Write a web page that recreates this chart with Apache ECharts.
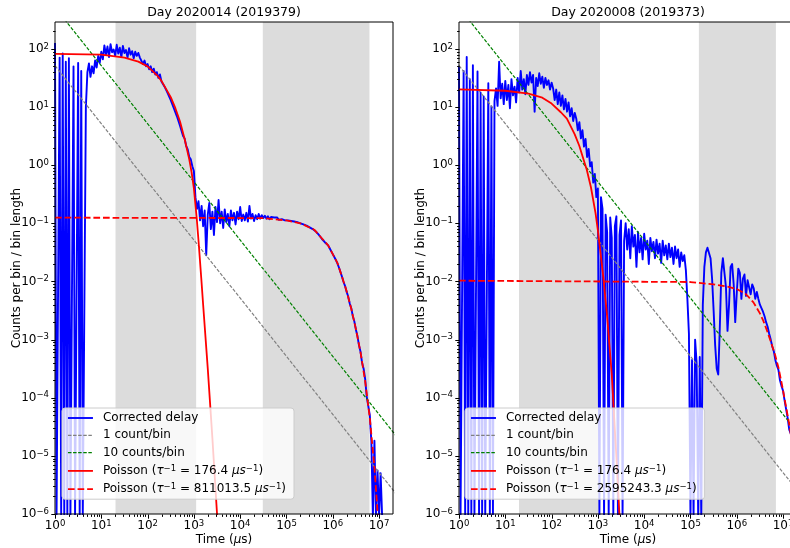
<!DOCTYPE html>
<html>
<head>
<meta charset="utf-8">
<title>Corrected delay</title>
<script src="https://cdn.jsdelivr.net/npm/echarts@6/dist/echarts.min.js"></script>
<style>
  html, body { margin: 0; padding: 0; background: #fff; }
  #chart { width: 790px; height: 548px; }
</style>
</head>
<body>
<div id="chart"></div>
<script>
var xMin = 1, xMax = 2.0e7, yMin = 1e-6, yMax = 290;
var binsPerDecade = 30;   // bin i sits at 10^(i/30) us
var EMPTY = -9;           // marker for an empty bin (log of zero)

// log10(counts per bin / bin length) per bin, -9 = empty bin
var delayA = [
  2.10, -9, -9, 1.85, -9, 1.92, -9, 1.78, -9, 1.84, -9, -9, 1.70, -9, -9, 1.76, -9, 1.62, -9, -9, 1.00,
  1.60, 1.75, 1.52, 1.70, 1.58, 1.80, 1.68, 1.88, 1.76, 1.95, 1.82, 2.06, 1.90, 2.04, 1.86,
  2.08, 1.94, 1.99, 1.88, 2.07, 1.92, 2.02, 1.86, 2.05, 1.93, 1.98, 1.85, 2.01, 1.90, 1.96,
  1.84, 1.95, 1.88, 1.93, 1.85,
  1.83, 1.74, 1.80, 1.70, 1.74, 1.65, 1.70, 1.60, 1.66, 1.56, 1.60, 1.50, 1.56, 1.44, 1.46,
  1.35, 1.36, 1.24, 1.26, 1.12, 1.12, 0.98, 0.97, 0.84, 0.82, 0.68, 0.66, 0.50, 0.46, 0.33,
  0.27, 0.14, 0.10, -0.02, -0.10,
  -0.55, -0.75, -0.62, -0.95, -0.70, -1.05, -0.78, -1.55, -0.85, -0.65, -1.10, -0.80, -1.20, -0.72, -0.98,
  -0.60, -1.00, -0.80, -1.08, -0.76, -0.98, -0.84, -1.05, -0.78, -0.95, -0.82, -1.02, -0.80, -0.93, -0.72,
  -0.96, -0.85, -0.95, -0.82, -0.97, -0.70, -0.92, -0.84, -0.96, -0.86, -0.93, -0.84, -0.92, -0.86, -0.91,
  -0.87, -0.92, -0.88, -0.93, -0.89, -0.92, -0.90, -0.93, -0.90, -0.94, -0.91, -0.93, -0.91, -0.95, -0.93,
  -0.95, -0.93, -0.96, -0.95, -0.97, -0.96, -0.98, -0.98, -1.00, -1.00, -1.02, -1.03, -1.04, -1.06, -1.07,
  -1.09, -1.10, -1.12, -1.14, -1.17, -1.20, -1.23, -1.27, -1.30, -1.33, -1.36, -1.38, -1.43, -1.48, -1.53,
  -1.58, -1.63, -1.69, -1.76, -1.84,
  -1.92, -2.01, -2.08, -2.18, -2.26, -2.38, -2.46, -2.60, -2.69, -2.83, -2.94, -3.10, -3.21, -3.40,
  -3.50, -3.68, -3.98, -3.96, -4.30, -4.75, -9, -4.74, -9, -5.25, -9, -5.30, -9
];
var delayB = [
  1.71, -9, -9, 1.62, -9, 1.86, -9, 1.48, -9, 1.72, -9, -9, 1.61, -9, 1.25, -9, 1.18, -9, -9, 1.41, -9, 1.01, -9,
  1.10, 1.32, 1.02, 1.78, 1.15, 1.40, 1.05, 1.45, 1.12, 1.38, 0.98, 1.48, 1.20, 1.35, 1.08, 1.50,
  1.25, 1.62, 1.30, 1.48, 1.22, 1.55, 1.38,
  1.60, 1.42, 1.55, 0.92, 1.50, 1.36, 1.58, 1.40, 1.52, 1.33, 1.50, 1.38, 1.46, 1.30, 1.42,
  1.32, 1.12, 1.30, 1.05, 1.25, 1.02, 1.20, 0.96, 1.14, 0.92, 1.08, 0.84, 0.98, 0.76, 0.90,
  0.80, 0.60, 0.74, 0.46, 0.60, 0.32, 0.45, 0.14, 0.28, -0.02, 0.05, -0.30, -0.15, -0.55, -0.40,
  -9, -0.55, -0.75, -9, -0.85, -1.15, -9, -0.90, -1.25, -9, -1.05, -0.88, -9, -1.20, -0.95, -9, -1.30,
  -1.00, -1.45, -1.10, -1.60, -1.05, -1.40, -1.20, -1.75, -1.15, -1.50, -1.25, -1.62, -1.18, -1.45, -1.30,
  -1.70, -1.25, -1.48, -1.32, -1.60, -1.28, -1.52, -1.35, -1.68, -1.30, -1.55, -1.38, -1.62, -1.35, -1.58,
  -1.42, -1.70, -1.40, -1.60, -1.45, -1.75, -1.50, -1.65, -1.55, -1.80,
  -2.30, -2.90, -9, -3.35, -9, -3.00, -3.40, -9, -3.30, -9, -2.40, -1.75, -1.50, -1.42, -1.43,
  -1.60, -1.95, -2.50, -3.10, -3.50, -3.60, -2.80, -1.85, -1.60, -1.62, -2.10, -2.85, -2.40, -1.75, -1.70,
  -2.05, -2.70, -2.20, -1.78, -1.85, -2.30, -1.95, -1.88, -2.25, -1.98, -1.95, -2.22, -2.05, -2.12, -2.30,
  -2.18, -2.30, -2.40, -2.38, -2.52, -2.60, -2.70, -2.78, -2.90, -3.00, -3.12, -3.20, -3.35, -3.45, -3.52,
  -3.70, -3.80, -3.88, -4.05, -4.20, -4.35, -4.55, -4.62
];

// Poisson curves (log10 t, log10 y)
var fastA_logT = [0, 1.0, 1.5, 1.8, 2.0, 2.2, 2.3, 2.5, 2.6, 2.7, 2.8, 2.9, 2.95, 3.0, 3.06, 3.1, 3.16, 3.2, 3.3, 3.4, 3.5, 3.56];
var fastA_logY = [1.914, 1.90, 1.85, 1.78, 1.70, 1.55, 1.45, 1.17, 0.98, 0.75, 0.45, 0.10, -0.12, -0.40, -0.90, -1.30, -1.95, -2.40, -3.50, -4.70, -6.00, -6.80];
var slowA_logT = [0, 4.5, 5.0, 5.3, 5.6, 5.9, 6.1, 6.2, 6.3, 6.4, 6.5, 6.6, 6.7, 6.8, 6.9, 6.97, 7.05];
var slowA_logY = [-0.903, -0.91, -0.95, -1.0, -1.11, -1.38, -1.68, -1.92, -2.17, -2.47, -2.82, -3.22, -3.72, -4.35, -5.2, -6.0, -7.0];
var fastB_logT = [0, 1.0, 1.5, 1.8, 2.0, 2.2, 2.33, 2.5, 2.6, 2.7, 2.76, 2.85, 2.95, 3.0, 3.05, 3.117, 3.2, 3.3, 3.44, 3.5];
var fastB_logY = [1.305, 1.28, 1.23, 1.16, 1.06, 0.91, 0.80, 0.53, 0.33, 0.07, -0.08, -0.38, -0.83, -1.12, -1.46, -1.92, -2.6, -3.6, -5.6, -6.6];
var slowB_logT = [0, 5.0, 5.5, 5.8, 6.0, 6.2, 6.36, 6.5, 6.57, 6.65, 6.75, 6.83, 6.9, 6.97, 7.04, 7.13, 7.3];
var slowB_logY = [-1.987, -2.01, -2.05, -2.09, -2.13, -2.22, -2.36, -2.55, -2.67, -2.84, -3.07, -3.27, -3.48, -3.75, -4.05, -4.44, -5.3];

// 1 and 10 counts per bin reference lines
var countLine_logT = [0, 7.5];
var oneCount_logY = [1.713, -5.787];
var tenCount_logY = [2.713, -4.787];

// shaded time windows (us)
var spansA = [[20.3, 1120], [30800, 6.2e6]];
var spansB = [[19.8, 1110], [1.52e5, 7.0e6]];

var rateFast = '176.4', rateSlowA = '811013.5', rateSlowB = '2595243.3';
var decadesX = [1, 10, 100, 1e3, 1e4, 1e5, 1e6, 1e7];
var decadesY = [1e-6, 1e-5, 1e-4, 1e-3, 1e-2, 0.1, 1, 10, 100];

var FONT = 'DejaVu Sans';

function binned(logY) {
  // empty bins go just under the bottom of the axis
  return logY.map(function (v, i) {
    return [Math.pow(10, i / binsPerDecade), v === EMPTY ? yMin * 0.9 : Math.pow(10, v)];
  });
}
function pairs(logT, logY) {
  return logT.map(function (t, i) { return [Math.pow(10, t), Math.pow(10, logY[i])]; });
}
function poissonLabel(rate) {
  return '{n|Poisson (}{i|\u03c4}{s|\u22121}{n| = ' + rate + ' }{i|\u03bcs}{s|\u22121}{n|)}';
}
var legendText = {
  delayA: '{n|Corrected delay}', oneA: '{n|1 count/bin}', tenA: '{n|10 counts/bin}',
  fastA: poissonLabel(rateFast), slowA: poissonLabel(rateSlowA),
  delayB: '{n|Corrected delay}', oneB: '{n|1 count/bin}', tenB: '{n|10 counts/bin}',
  fastB: poissonLabel(rateFast), slowB: poissonLabel(rateSlowB)
};

var textRich = {
  n: { fontFamily: FONT, fontSize: 12, color: '#000', lineHeight: 14 },
  i: { fontFamily: FONT, fontSize: 12, color: '#000', lineHeight: 14, fontStyle: 'italic' },
  s: { fontFamily: FONT, fontSize: 8.5, color: '#000', lineHeight: 8, verticalAlign: 'top' },
  b: { fontFamily: FONT, fontSize: 12, color: '#000', lineHeight: 14 }
};

function powLabel(v) {
  var l = Math.log10(v), e = Math.round(l);
  if (Math.abs(l - e) > 1e-6) return '';
  return '{b|10}{s|' + (e < 0 ? '\u2212' + (-e) : e) + '}';
}

// tick marks (major + matplotlib style minor) as [x, y, length, 0=x tick / 1=y tick]
function tickData() {
  var out = [];
  decadesX.forEach(function (d) {
    out.push([d, yMin, 4.2, 0]);
    for (var m = 2; m < 10; m++) if (d * m < xMax) out.push([d * m, yMin, 2.4, 0]);
  });
  decadesY.forEach(function (d) {
    out.push([xMin, d, 4.2, 1]);
    for (var m = 2; m < 10; m++) if (d * m < yMax) out.push([xMin, d * m, 2.4, 1]);
  });
  return out;
}

function lineSeries(k, name, data, color, width, dash, z) {
  return {
    name: name, type: 'line', xAxisIndex: k, yAxisIndex: k, data: data,
    symbol: 'none', showSymbol: false, z: z, silent: true, clip: true,
    color: color, itemStyle: { color: color },
    lineStyle: { color: color, width: width, type: dash || 'solid', join: 'round' }
  };
}

function panel(k, tag, delay, fT, fY, sT, sY, spans) {
  var gray = lineSeries(k, 'one' + tag, pairs(countLine_logT, oneCount_logY), '#808080', 1.2, [3.5, 1.6], 3);
  gray.markArea = {
    silent: true, itemStyle: { color: '#dcdcdc' },
    data: spans.map(function (s) { return [{ xAxis: s[0] }, { xAxis: s[1] }]; })
  };
  return [
    lineSeries(k, 'delay' + tag, binned(delay), '#0000ff', 1.9, null, 2),
    gray,
    lineSeries(k, 'ten' + tag, pairs(countLine_logT, tenCount_logY), '#008000', 1.2, [3.5, 1.6], 4),
    lineSeries(k, 'fast' + tag, pairs(fT, fY), '#ff0000', 1.8, null, 5),
    lineSeries(k, 'slow' + tag, pairs(sT, sY), '#ff0000', 1.8, [6.7, 2.9], 6),
    {
      type: 'custom', xAxisIndex: k, yAxisIndex: k, data: tickData(), clip: false, silent: true, z: 12,
      encode: { x: 0, y: 1 },
      renderItem: function (params, api) {
        var p = api.coord([api.value(0), api.value(1)]);
        var len = api.value(2);
        var x = Math.round(p[0]) + 0.5, y = Math.round(p[1]) + 0.5;
        var shape = api.value(3) === 0 ? { x1: x, y1: y, x2: x, y2: y + len } : { x1: x, y1: y, x2: x - len, y2: y };
        return { type: 'line', shape: shape, style: { stroke: '#000', lineWidth: 1 } };
      }
    }
  ];
}

function xAx(k) {
  return {
    type: 'log', logBase: 10, gridIndex: k, min: xMin, max: xMax,
    name: '{n|Time (}{i|\u03bc}{n|s)}', nameLocation: 'middle', nameGap: 19, nameMoveOverlap: false,
    nameTextStyle: { rich: textRich },
    axisLine: { show: false }, axisTick: { show: false }, splitLine: { show: false }, minorTick: { show: false },
    axisLabel: { margin: 5, formatter: powLabel, rich: textRich }
  };
}
function yAx(k) {
  return {
    type: 'log', logBase: 10, gridIndex: k, min: yMin, max: yMax,
    name: 'Counts per bin / bin length', nameLocation: 'middle', nameGap: 32, nameMoveOverlap: false,
    nameTextStyle: { fontFamily: FONT, fontSize: 12, color: '#000' },
    axisLine: { show: false }, axisTick: { show: false }, splitLine: { show: false }, minorTick: { show: false },
    axisLabel: { margin: 6, formatter: powLabel, rich: textRich }
  };
}
function legend(left, tag) {
  return {
    orient: 'vertical', left: left, top: 408, itemWidth: 25, itemHeight: 14, itemGap: 5.3,
    padding: [4, 8, 4, 5], backgroundColor: 'rgba(255,255,255,0.8)',
    borderColor: '#cccccc', borderWidth: 1, borderRadius: 3, z: 20,
    selectedMode: false,
    itemStyle: { color: 'rgba(0,0,0,0)', borderWidth: 0, opacity: 0 },
    lineStyle: { width: 'inherit' },
    data: ['delay', 'one', 'ten', 'fast', 'slow'].map(function (n) { return n + tag; }),
    formatter: function (name) { return legendText[name]; },
    textStyle: { rich: textRich, padding: [0, 0, 0, 5] }
  };
}

var chart = echarts.init(document.getElementById('chart'), null, { renderer: 'canvas' });
chart.setOption({
  animation: false,
  backgroundColor: '#fff',
  textStyle: { fontFamily: FONT },
  title: [
    { text: 'Day 2020014 (2019379)', left: 224, top: 6, padding: 0, textAlign: 'center',
      textStyle: { fontFamily: FONT, fontSize: 12.5, fontWeight: 'normal', color: '#000' } },
    { text: 'Day 2020008 (2019373)', left: 628, top: 6, padding: 0, textAlign: 'center',
      textStyle: { fontFamily: FONT, fontSize: 12.5, fontWeight: 'normal', color: '#000' } }
  ],
  grid: [
    { left: 55, top: 22, width: 338, height: 492, show: true, borderColor: '#000', borderWidth: 1, z: 10, outerBoundsMode: 'none' },
    { left: 459, top: 22, width: 338, height: 492, show: true, borderColor: '#000', borderWidth: 1, z: 10, outerBoundsMode: 'none' }
  ],
  xAxis: [xAx(0), xAx(1)],
  yAxis: [yAx(0), yAx(1)],
  legend: [legend(62, 'A'), legend(465, 'B')],
  series: panel(0, 'A', delayA, fastA_logT, fastA_logY, slowA_logT, slowA_logY, spansA)
    .concat(panel(1, 'B', delayB, fastB_logT, fastB_logY, slowB_logT, slowB_logY, spansB))
});
</script>
</body>
</html>
